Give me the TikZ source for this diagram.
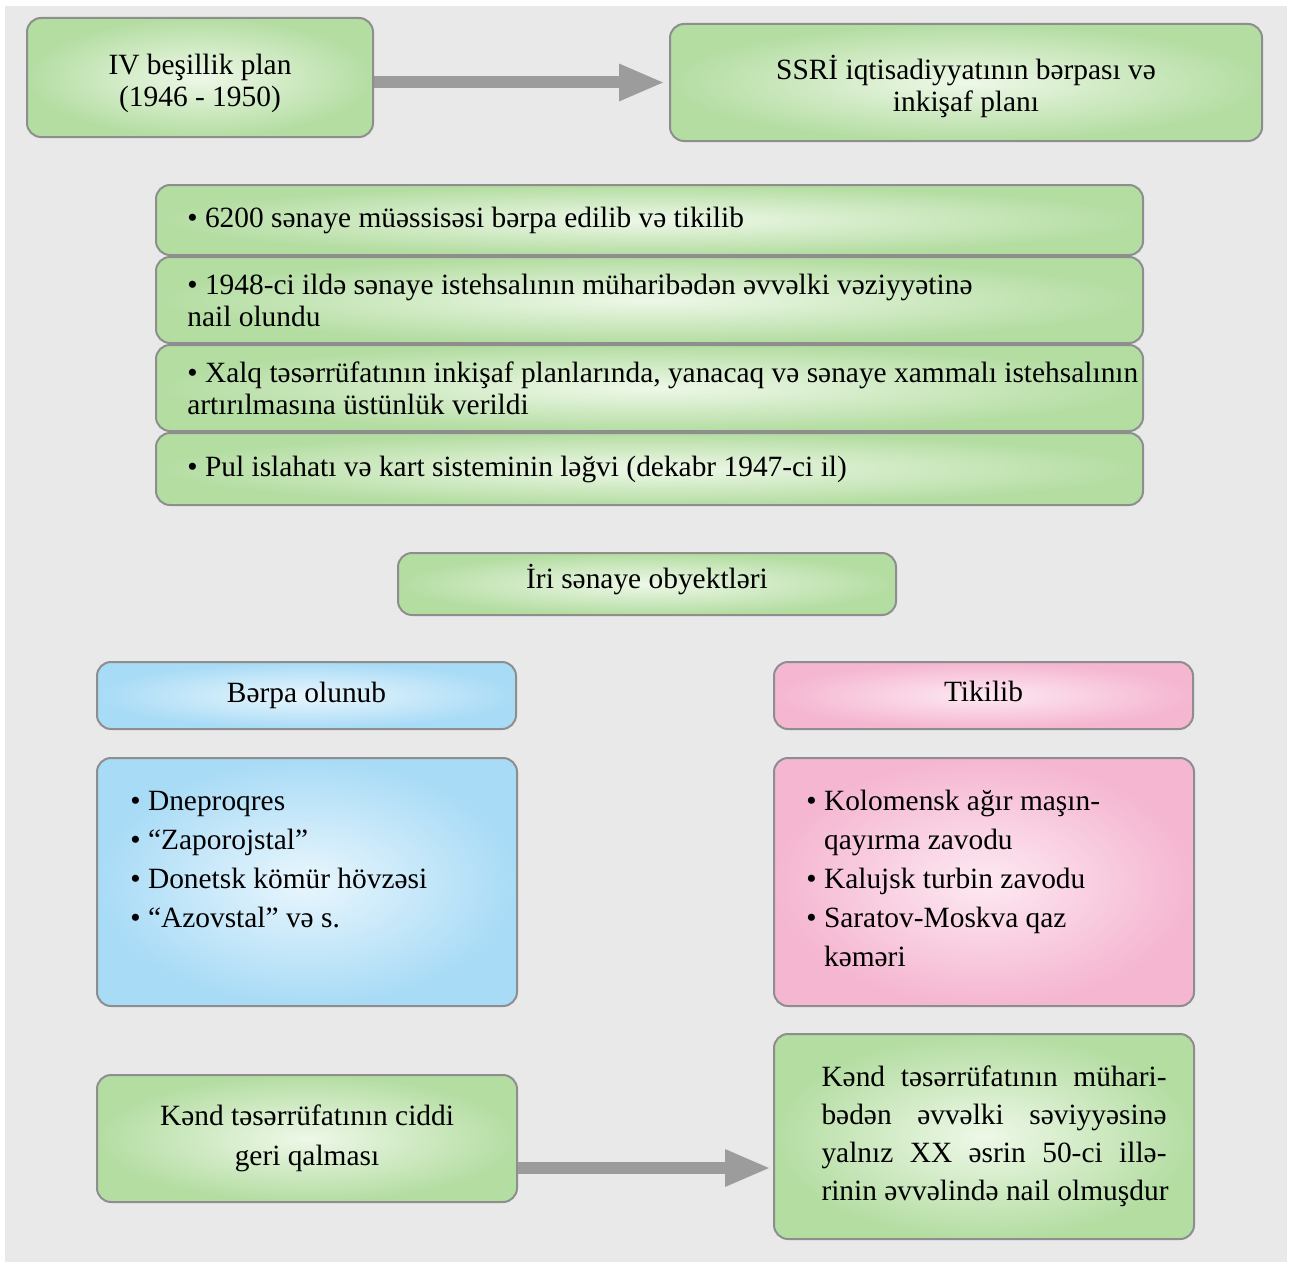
\documentclass[tikz,border=0pt]{standalone}
\usepackage{fontspec}
\setmainfont{Liberation Serif}
\usetikzlibrary{arrows.meta}

\definecolor{bggray}{HTML}{E9E9E9}
\definecolor{boxline}{HTML}{8E8E8E}
\definecolor{greenout}{HTML}{B4DDA2}
\definecolor{greenin}{HTML}{EEF8E8}
\definecolor{blueout}{HTML}{A8DBF6}
\definecolor{bluein}{HTML}{E9F6FD}
\definecolor{pinkout}{HTML}{F5B6D1}
\definecolor{pinkin}{HTML}{FDE9F2}
\definecolor{arrowgray}{HTML}{9C9C9C}

\tikzset{
  blok/.style={draw=boxline, line width=1pt, rounded corners=7pt, inner sep=0pt,
    align=center, font=\fontsize{14.7}{16}\selectfont},
  yasil/.style={blok, inner color=greenin, outer color=greenout},
  mavi/.style={blok, inner color=bluein, outer color=blueout},
  cehrayi/.style={blok, inner color=pinkin, outer color=pinkout},
  yazi/.style={inner sep=0pt, align=left, font=\fontsize{14.7}{16}\selectfont},
  siyahi/.style={inner sep=0pt, align=left, font=\fontsize{14.7}{19.4}\selectfont},
  ox/.style={arrowgray, line width=6pt, -{Triangle[length=23pt,width=17pt]}}
}
\newcommand{\tamsetir}[2][s]{\hspace*{10pt}\makebox[172.5pt][#1]{#2}}

\begin{document}
\begin{tikzpicture}[x=0.5pt, y=-0.5pt]
      % Fon
      \fill[white] (0,0) rectangle (1293,1268);
      \fill[bggray] (5,6) rectangle (1287,1262);
      \useasboundingbox (0,0) rectangle (1293,1268);

      % Yuxari bloklar
      \node[yasil, minimum width=173pt, minimum height=59.5pt] (plan) at (200,77.5)
        {\rule{0pt}{16pt}IV beşillik plan\\(1946 - 1950)};
      \node[yasil, minimum width=296pt, minimum height=58.5pt] (ssri) at (966,82.5)
        {\rule{0pt}{16pt}SSRİ iqtisadiyyatının bərpası və\\inkişaf planı};
      \draw[ox, shorten >=2pt] (plan.east |- ssri.west) -- (ssri.west);

      % Siyahi
      \node[yasil, minimum width=493.5pt, minimum height=35pt] (r1) at (649.5,220) {};
      \node[yasil, minimum width=493.5pt, minimum height=43pt] (r2) at (649.5,300) {};
      \node[yasil, minimum width=493.5pt, minimum height=43pt] (r3) at (649.5,388) {};
      \node[yasil, minimum width=493.5pt, minimum height=36pt] (r4) at (649.5,469) {};
      \node[yazi, anchor=west] (t1) at ([xshift=16pt]r1.west)
        {• 6200 sənaye müəssisəsi bərpa edilib və tikilib};
      \node[yazi, anchor=west] (t2) at ([xshift=16pt]r2.west)
        {• 1948-ci ildə sənaye istehsalının müharibədən əvvəlki vəziyyətinə\\nail olundu};
      \node[yazi, anchor=west] (t3) at ([xshift=16pt]r3.west)
        {• Xalq təsərrüfatının inkişaf planlarında, yanacaq və sənaye xammalı istehsalının\\artırılmasına üstünlük verildi};
      \node[yazi, anchor=west] (t4) at ([xshift=16pt]r4.west)
        {• Pul islahatı və kart sisteminin ləğvi (dekabr 1947-ci il)};

      % Iri obyektler
      \node[yasil, minimum width=249pt, minimum height=31pt, text depth=8pt] (iri) at (647,584)
        {İri sənaye obyektləri};
      \node[mavi, minimum width=209.5pt, minimum height=33.5pt] (berpa) at (306.5,695.5)
        {Bərpa olunub};
      \node[cehrayi, minimum width=209.5pt, minimum height=33.5pt, text depth=4pt] (tikilib) at (983.5,695.5)
        {Tikilib};

      \node[mavi, minimum width=210pt, minimum height=124pt] (bsiy) at (307,882) {};
      \node[siyahi, anchor=north west] (btxt) at (130,791)
        {• Dneproqres\\• “Zaporojstal”\\• Donetsk kömür hövzəsi\\• “Azovstal” və s.};
      \node[cehrayi, minimum width=210pt, minimum height=124pt] (tsiy) at (984,882) {};
      \node[siyahi, anchor=north west] (ttxt) at (806,790)
        {• Kolomensk ağır maşın-\\\phantom{•\ }qayırma zavodu\\• Kalujsk turbin zavodu\\%
         • Saratov-Moskva qaz\\\phantom{•\ }kəməri};

      % Kend teserrufati
      \node[yasil, minimum width=210pt, minimum height=63.5pt, font=\fontsize{14.7}{20}\selectfont] (kend) at (307,1138.5)
        {Kənd təsərrüfatının ciddi\\geri qalması};
      \node[yasil, minimum width=210pt, minimum height=102.5pt, align=left,
        font=\fontsize{14.7}{19}\selectfont] (sevi) at (984,1136.5)
        {\tamsetir{Kənd təsərrüfatının mühari-}\\\tamsetir{bədən əvvəlki səviyyəsinə}\\
         \tamsetir{yalnız XX əsrin 50-ci illə-}\\\tamsetir[l]{rinin əvvəlində nail olmuşdur}};
      \draw[ox, shorten >=1pt] ([yshift=-14.75pt]kend.east) -- ([yshift=-14.75pt]kend.east -| sevi.west);
\end{tikzpicture}
\end{document}
